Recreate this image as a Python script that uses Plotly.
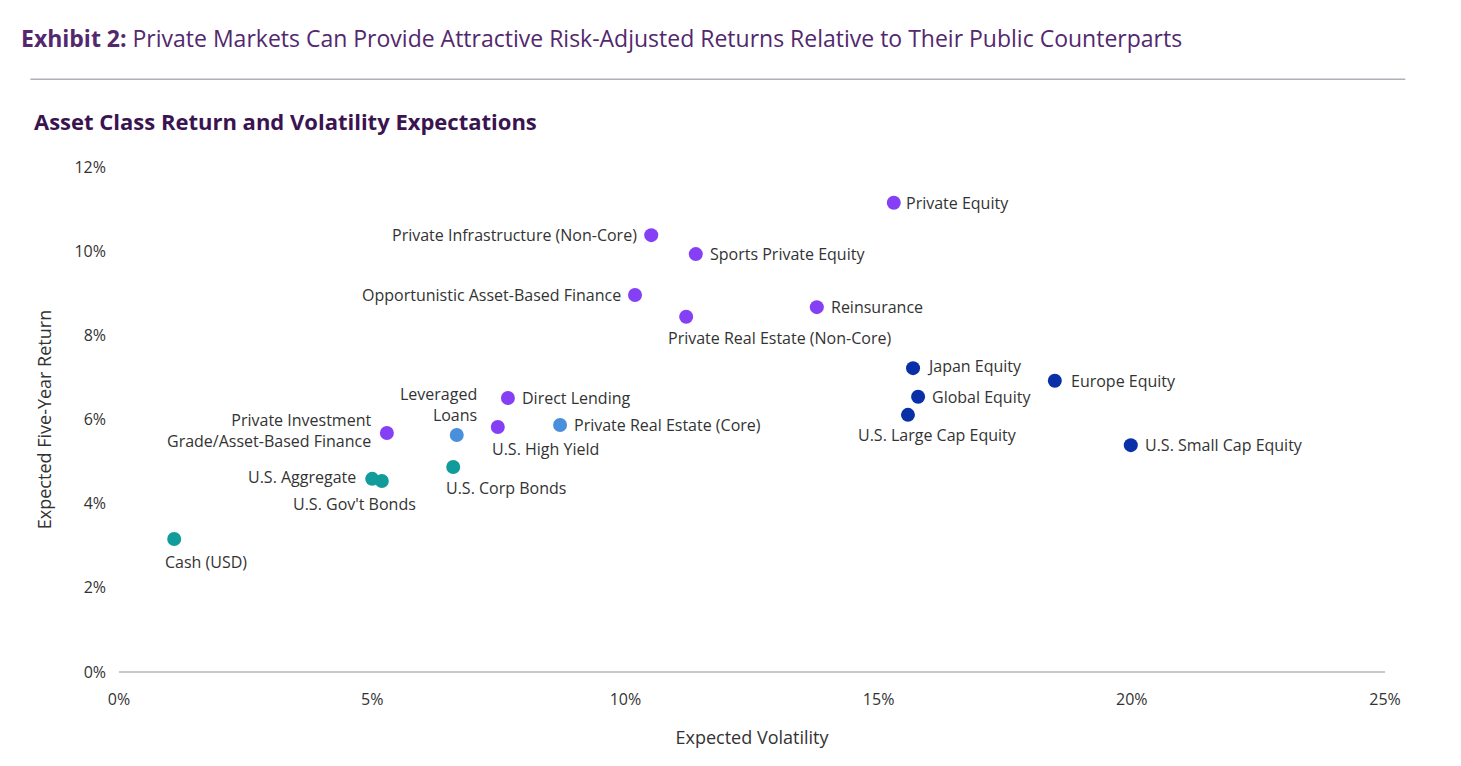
import plotly.graph_objects as go

names = ["Private Equity", "Private Infrastructure (Non-Core)", "Sports Private Equity",
         "Opportunistic Asset-Based Finance", "Reinsurance", "Private Real Estate (Non-Core)",
         "Japan Equity", "Europe Equity", "Global Equity", "U.S. Large Cap Equity",
         "U.S. Small Cap Equity", "Direct Lending", "Leveraged<br>Loans",
         "Private Real Estate (Core)", "U.S. High Yield",
         "Private Investment<br>Grade/Asset-Based Finance", "U.S. Aggregate",
         "U.S. Gov't Bonds", "U.S. Corp Bonds", "Cash (USD)"]
volatility = [15.3, 10.51, 11.39, 10.19, 13.78, 11.2, 15.68, 18.48, 15.78, 15.58,
              19.98, 7.68, 6.67, 8.71, 7.48, 5.29, 5.0, 5.19, 6.6, 1.09]
ret = [11.15, 10.38, 9.93, 8.96, 8.67, 8.44, 7.22, 6.92, 6.54, 6.11,
       5.39, 6.51, 5.63, 5.87, 5.82, 5.68, 4.59, 4.54, 4.87, 3.16]
group = ["p", "p", "p", "p", "p", "p", "d", "d", "d", "d", "d", "p", "l", "l", "p", "p",
         "t", "t", "t", "t"]

colors = {"p": "#8540f5", "d": "#0a30a8", "l": "#4a8fdc", "t": "#119b9b"}
# label placement: (xanchor, xshift, yshift, align)
place = [("left", 10, 0, "left"), ("right", -12, 0, "right"), ("left", 12, 0, "left"),
         ("right", -12, 0, "right"), ("left", 12, 0, "left"), ("left", -20, -21, "left"),
         ("left", 12, 2, "left"), ("left", 14, 0, "left"), ("left", 12, 0, "left"),
         ("center", 30, -20, "center"), ("left", 12, 0, "left"), ("left", 12, 0, "left"),
         ("right", 22, 31, "right"), ("left", 12, 0, "left"), ("left", -8, -22, "left"),
         ("right", -14, 2, "right"), ("right", -14, 2, "right"), ("center", -27, -23, "center"),
         ("left", -9, -21, "left"), ("center", 32, -23, "center")]

fig = go.Figure(go.Scatter(x=volatility, y=ret, mode="markers",
                           marker=dict(size=14, color=[colors[g] for g in group]),
                           hoverinfo="skip"))
for n, x, y, p in zip(names, volatility, ret, place):
    fig.add_annotation(x=x, y=y, text=n, showarrow=False, xanchor=p[0], yanchor="middle",
                       xshift=p[1], yshift=p[2], align=p[3],
                       font=dict(size=16, color="#333333"))

fig.add_annotation(xref="paper", yref="paper", x=-0.079, y=1.292, xanchor="left",
                   text="<b>Exhibit 2:</b> Private Markets Can Provide Attractive Risk-Adjusted Returns Relative to Their Public Counterparts",
                   showarrow=False, font=dict(size=23, color="#53286e"))
fig.add_annotation(xref="paper", yref="paper", x=-0.069, y=1.124, xanchor="left",
                   text="<b>Asset Class Return and Volatility Expectations</b>",
                   showarrow=False, font=dict(size=22, color="#3a1450"))
fig.add_shape(type="line", xref="paper", yref="paper", x0=-0.07, x1=1.016, y0=1.174, y1=1.174,
              line=dict(color="#b0b0b8", width=1.5))

fig.update_layout(
    width=1461, height=766, plot_bgcolor="white", paper_bgcolor="white",
    margin=dict(l=111, r=84, t=159, b=102), showlegend=False,
    font=dict(family="Open Sans", color="#333333"),
    xaxis=dict(range=[0, 25], tickvals=[0, 5, 10, 15, 20, 25],
               ticktext=["0%", "5%", "10%", "15%", "20%", "25%"], showgrid=False,
               zeroline=False, showline=False, tickfont=dict(size=16), ticklabelstandoff=16,
               title=dict(text="Expected Volatility", font=dict(size=18), standoff=22)),
    yaxis=dict(range=[0, 12], tickvals=[0, 2, 4, 6, 8, 10, 12],
               ticktext=["0%", "2%", "4%", "6%", "8%", "10%", "12%"], showgrid=False,
               zeroline=True, zerolinecolor="#c8c8c8", zerolinewidth=1.5,
               tickfont=dict(size=16), ticklabelstandoff=12,
               title=dict(text="Expected Five-Year Return", font=dict(size=18), standoff=18)),
)
fig.write_html("out.html")
